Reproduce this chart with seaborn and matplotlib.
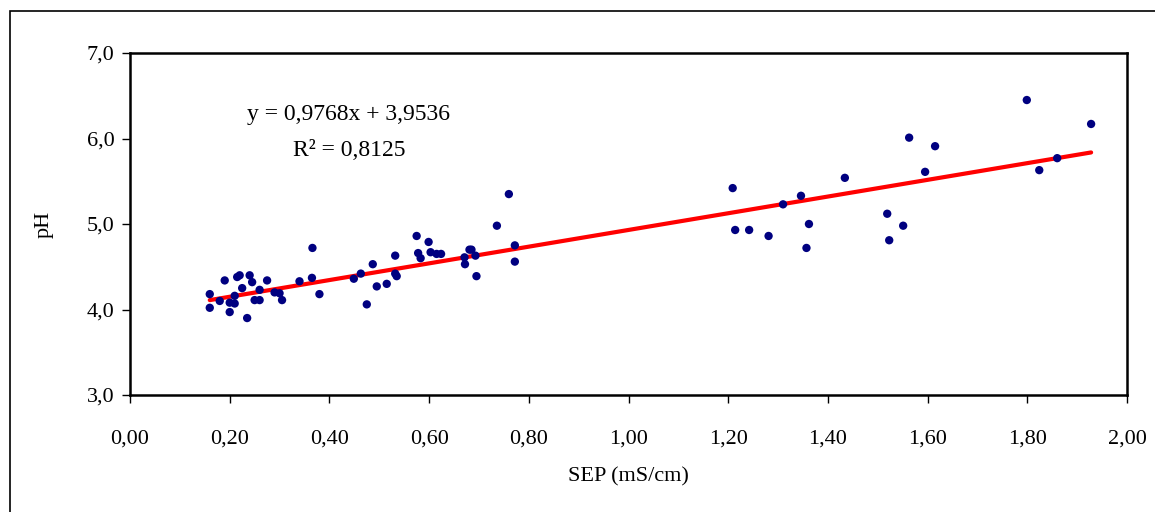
import numpy as np
import pandas as pd
import matplotlib.pyplot as plt
import matplotlib.patches as mpatches
import seaborn as sns

# SEP (mS/cm) vs pH, con recta de regresión
sep = [0.16, 0.16, 0.18, 0.19, 0.20, 0.20, 0.21, 0.21, 0.215, 0.22, 0.225, 0.235,
       0.24, 0.245, 0.25, 0.26, 0.26, 0.275, 0.29, 0.30, 0.305, 0.34, 0.365, 0.366, 0.38,
       0.449, 0.463, 0.475, 0.487, 0.495, 0.515, 0.532, 0.532, 0.535, 0.575, 0.578,
       0.583, 0.599, 0.603, 0.615, 0.624, 0.671, 0.672, 0.681, 0.685, 0.693, 0.695,
       0.736, 0.760, 0.772, 0.772,
       1.209, 1.214, 1.242, 1.281, 1.310, 1.346, 1.357, 1.362, 1.434,
       1.519, 1.523, 1.551, 1.563, 1.595, 1.615, 1.799, 1.824, 1.860, 1.928]
ph = [4.18, 4.02, 4.10, 4.34, 3.97, 4.08, 4.07, 4.16, 4.38, 4.40, 4.25, 3.90,
      4.40, 4.32, 4.11, 4.11, 4.23, 4.34, 4.20, 4.19, 4.11, 4.33, 4.37, 4.72, 4.18,
      4.36, 4.42, 4.06, 4.53, 4.27, 4.30, 4.63, 4.42, 4.39, 4.86, 4.66,
      4.60, 4.79, 4.67, 4.65, 4.65, 4.61, 4.53, 4.70, 4.70, 4.63, 4.39,
      4.98, 5.35, 4.75, 4.56,
      5.42, 4.93, 4.93, 4.86, 5.23, 5.33, 4.72, 5.00, 5.54,
      5.12, 4.81, 4.98, 6.01, 5.61, 5.91, 6.45, 5.63, 5.77, 6.17]

pendiente = 0.9768
ordenada = 3.9536
r2 = 0.8125

x_ticks = [0.0, 0.2, 0.4, 0.6, 0.8, 1.0, 1.2, 1.4, 1.6, 1.8, 2.0]
y_ticks = [3.0, 4.0, 5.0, 6.0, 7.0]

df = pd.DataFrame({"SEP": sep, "pH": ph})
x_line = np.array([min(sep), max(sep)])
df_line = pd.DataFrame({"SEP": x_line, "pH": pendiente * x_line + ordenada})

sns.set_style("white")
plt.rcParams["font.family"] = ["Liberation Serif", "DejaVu Serif"]
plt.rcParams["text.color"] = "black"
plt.rcParams["axes.labelcolor"] = "black"

fig = plt.figure(figsize=(11.55, 5.12), dpi=100)
ax = fig.add_axes([130 / 1155, 1 - 395 / 512, 997 / 1155, 342 / 512])

# marco exterior del gráfico
fig.patches.append(mpatches.Rectangle((10 / 1155, -0.1), 1.2, 1.1 - 11 / 512,
                                      transform=fig.transFigure, fill=False,
                                      edgecolor="black", linewidth=1.2))

sns.scatterplot(data=df, x="SEP", y="pH", color="#000080", s=36,
                edgecolor="none", ax=ax, zorder=3)
sns.lineplot(data=df_line, x="SEP", y="pH", color="#ff0000", linewidth=3,
             ax=ax, zorder=2)

ax.set_xlim(0, 2)
ax.set_ylim(3, 7)
ax.set_xticks(x_ticks)
ax.set_yticks(y_ticks)
ax.set_xticklabels([f"{t:.2f}".replace(".", ",") for t in x_ticks])
ax.set_yticklabels([f"{t:.1f}".replace(".", ",") for t in y_ticks])
ax.tick_params(axis="both", direction="out", length=6, width=1, labelsize=16,
               color="black", labelcolor="black", bottom=True, left=True)
ax.tick_params(axis="x", pad=19)
ax.tick_params(axis="y", pad=5)
for s in ax.spines.values():
    s.set_visible(True)
    s.set_color("black")
    s.set_linewidth(1.8)

ax.set_xlabel("SEP (mS/cm)", fontsize=16, labelpad=13)
ax.set_ylabel("pH", fontsize=16, labelpad=24)

ax.text(0.439, 6.275, f"y = {pendiente:.4f}x + {ordenada:.4f}".replace(".", ","),
        fontsize=17, ha="center", va="center")
ax.text(0.44, 5.865, f"R² = {r2:.4f}".replace(".", ","),
        fontsize=17, ha="center", va="center")

fig.savefig("out.png", dpi=100)
